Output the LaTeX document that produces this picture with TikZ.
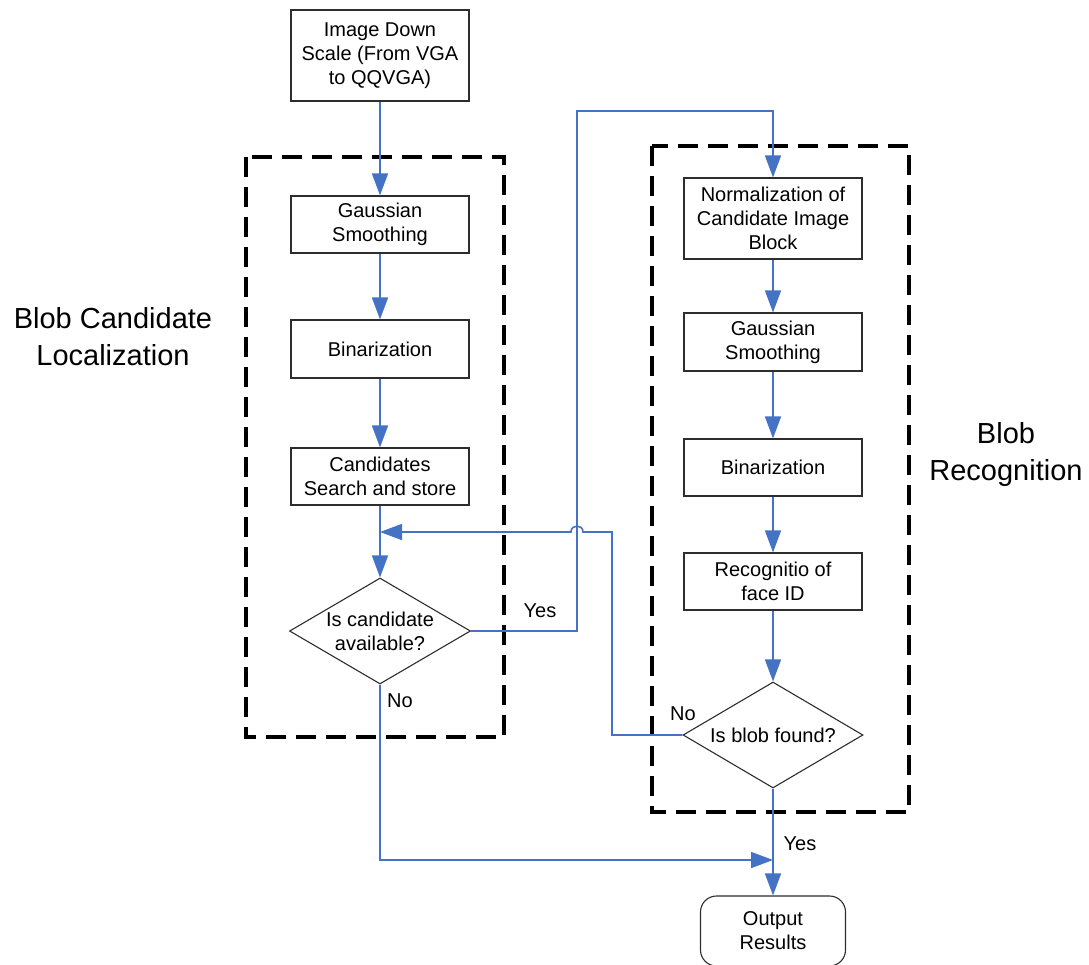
\documentclass[tikz,border=0pt]{standalone}
\usepackage{fontspec}
\setmainfont{Liberation Sans}
\usetikzlibrary{shapes.geometric,arrows.meta}
\definecolor{flowblue}{RGB}{68,114,196}
\definecolor{boxgray}{RGB}{45,45,45}
\begin{document}
\begin{tikzpicture}[x=1pt,y=-1pt,
  boxtext/.style={font=\fontsize{20}{24}\selectfont},
  proc/.style={boxtext, draw=boxgray, line width=1.1pt, rectangle,
    minimum width=178pt, inner sep=0pt, align=center},
  decision/.style={draw=boxgray, line width=1.1pt, diamond, inner sep=0pt,
    minimum width=181pt, minimum height=106pt},
  terminal/.style={boxtext, draw=boxgray, line width=1.1pt, rectangle,
    rounded corners=16pt, minimum width=145pt, minimum height=70pt,
    inner sep=0pt, align=center},
  flow/.style={draw=flowblue, line width=1.6pt,
    -{Triangle[length=22pt,width=16pt]}},
  group/.style={draw=black, line width=3.3pt, dash pattern=on 20pt off 10pt},
  sidelabel/.style={font=\fontsize{29}{37}\selectfont, align=center},
  branch/.style={boxtext}]
\useasboundingbox (0,0) rectangle (1089,965);

% grouping frames
\draw[group] (246,157) rectangle (504,737);
\draw[group] (652,146) rectangle (909,812);

% left column: candidate localization
\node[proc, minimum height=91pt] (down) at (380,55.5)
  {Image Down\\Scale (From VGA\\to QQVGA)};
\node[proc, minimum height=57pt] (gs1) at (380,224.5) {Gaussian\\Smoothing};
\node[proc, minimum height=58pt] (bin1) at (380,349) {Binarization};
\node[proc, minimum height=57pt] (cand) at (380,476.5)
  {Candidates\\Search and store};
\node[decision] (d1) at (380,631) {};
\node[boxtext, align=center] (d1text) at (d1.center) {Is candidate\\available?};

% right column: recognition
\node[proc, minimum height=81pt] (norm) at (773,218.5)
  {Normalization of\\Candidate Image\\Block};
\node[proc, minimum height=58pt] (gs2) at (773,342) {Gaussian\\Smoothing};
\node[proc, minimum height=57pt] (bin2) at (773,467.5) {Binarization};
\node[proc, minimum height=57pt] (rec) at (773,581.5) {Recognitio of\\face ID};
\node[decision, minimum width=180pt] (d2) at (773,735) {};
\node[boxtext] (d2text) at (d2.center) {Is blob found?};

\node[terminal] (out) at (773,931) {Output\\Results};

% group titles
\node[sidelabel] (lefttitle) at (113,337) {Blob Candidate\\Localization};
\node[sidelabel] (righttitle) at (1006,455) {Blob\\Recognition};

% straight flow
\draw[flow] (down) -- (gs1);
\draw[flow] (gs1) -- (bin1);
\draw[flow] (bin1) -- (cand);
\draw[flow] (cand) -- (d1);
\draw[flow] (norm) -- (gs2);
\draw[flow] (gs2) -- (bin2);
\draw[flow] (bin2) -- (rec);
\draw[flow] (rec) -- (d2);
\draw[flow] (d2) -- (out);

% yes branch to recognition
\coordinate (yesbend) at (577,111);
\draw[flow] (d1.east) -| (yesbend) -| (norm.north);

% no branch back to the candidate loop, hopping over the yes line
\coordinate (nobend) at (612,532);
\coordinate (hopR) at (583,532);
\coordinate (hopL) at (571,532);
\coordinate (merge) at (380,532);
\draw[flow] (d2.west) -| (nobend) -- (hopR)
  .. controls (583,524) and (571,524) .. (hopL) -- (merge);

% no candidate left: go to output
\coordinate (nocorner) at (380,860);
\coordinate (joinout) at (773,860);
\draw[flow] (d1.south) -- (nocorner) -- (joinout);

% branch labels
\node[branch] (yes1) at (540,611) {Yes};
\node[branch] (no1) at (400,701) {No};
\node[branch] (no2) at (683,714) {No};
\node[branch] (yes2) at (800,844) {Yes};
\end{tikzpicture}
\end{document}
